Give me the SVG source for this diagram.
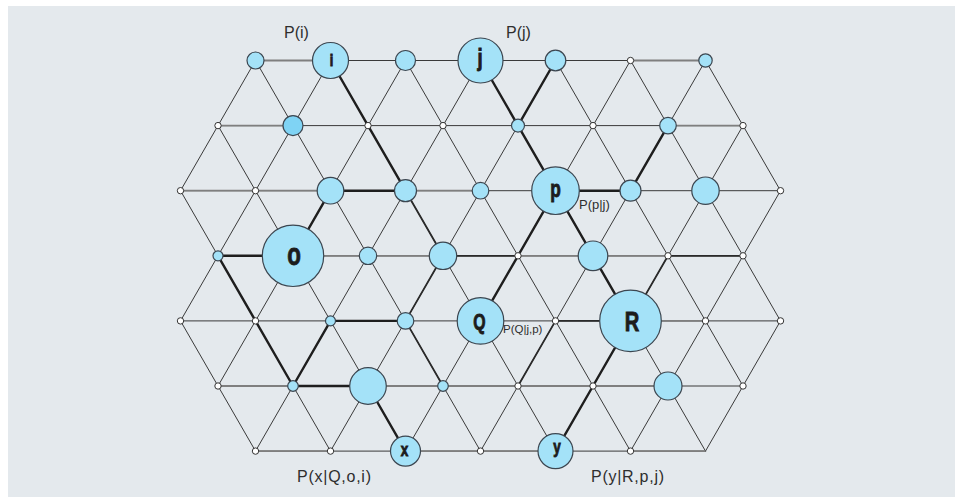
<svg xmlns="http://www.w3.org/2000/svg" width="962" height="497" viewBox="0 0 962 497">
<style>
.bg{fill:#e4e9ed}
.ln{stroke:#3a3a3a;stroke-width:1;fill:none;stroke-linecap:round}
.gr{stroke:#7f7f7f;stroke-width:1.8;fill:none}
.tk{stroke:#1e1e1e;stroke-width:2.4;fill:none;stroke-linecap:round}
.md{stroke:#2a2a2a;stroke-width:1.8;fill:none;stroke-linecap:round}
.b{fill:#a4e2f8;stroke:#3c4650;stroke-width:1.2}
.b2{fill:#7fd3f4;stroke:#3c4650;stroke-width:1.2}
.w{fill:#ffffff;stroke:#333;stroke-width:1}
.nl{font-family:"Liberation Sans",Arial,sans-serif;font-weight:bold;fill:#1c1c1c;stroke:#1c1c1c;stroke-width:0.9;text-anchor:middle}
.lb{font-family:"Liberation Sans",Arial,sans-serif;fill:#2e2e2e}
</style>
<rect width="962" height="497" fill="#ffffff"/>
<rect class="bg" x="8" y="6" width="947" height="491"/>
<g id="connectors">
<g class="ln">
<line x1="255.5" y1="60.5" x2="705.5" y2="60.5"/>
<line x1="218" y1="125.6" x2="743" y2="125.6"/>
<line x1="180.5" y1="190.7" x2="780.5" y2="190.7"/>
<line x1="218" y1="255.8" x2="743" y2="255.8"/>
<line x1="180.5" y1="320.9" x2="780.5" y2="320.9"/>
<line x1="218" y1="386" x2="743" y2="386"/>
<line x1="255.5" y1="451.1" x2="705.5" y2="451.1"/>
<line x1="180.5" y1="320.9" x2="255.5" y2="451.1"/>
<line x1="180.5" y1="190.7" x2="330.5" y2="451.1"/>
<line x1="218" y1="125.6" x2="405.5" y2="451.1"/>
<line x1="255.5" y1="60.5" x2="480.5" y2="451.1"/>
<line x1="330.5" y1="60.5" x2="555.5" y2="451.1"/>
<line x1="405.5" y1="60.5" x2="630.5" y2="451.1"/>
<line x1="480.5" y1="60.5" x2="705.5" y2="451.1"/>
<line x1="555.5" y1="60.5" x2="743" y2="386"/>
<line x1="630.5" y1="60.5" x2="780.5" y2="320.9"/>
<line x1="705.5" y1="60.5" x2="780.5" y2="190.7"/>
<line x1="255.5" y1="60.5" x2="180.5" y2="190.7"/>
<line x1="330.5" y1="60.5" x2="180.5" y2="320.9"/>
<line x1="405.5" y1="60.5" x2="218" y2="386"/>
<line x1="480.5" y1="60.5" x2="255.5" y2="451.1"/>
<line x1="555.5" y1="60.5" x2="330.5" y2="451.1"/>
<line x1="630.5" y1="60.5" x2="405.5" y2="451.1"/>
<line x1="705.5" y1="60.5" x2="480.5" y2="451.1"/>
<line x1="743" y1="125.6" x2="555.5" y2="451.1"/>
<line x1="780.5" y1="190.7" x2="630.5" y2="451.1"/>
<line x1="780.5" y1="320.9" x2="705.5" y2="451.1"/>
</g>
<g class="gr">
<line x1="255.5" y1="60.5" x2="330.5" y2="60.5"/>
<line x1="630.5" y1="60.5" x2="705.5" y2="60.5"/>
<line x1="218" y1="125.6" x2="293" y2="125.6"/>
<line x1="668" y1="125.6" x2="743" y2="125.6"/>
<line x1="180.5" y1="190.7" x2="330.5" y2="190.7"/>
<line x1="405.5" y1="190.7" x2="480.5" y2="190.7"/>
<line x1="293" y1="255.8" x2="443" y2="255.8"/>
<line x1="518" y1="255.8" x2="668" y2="255.8"/>
<line x1="630.5" y1="320.9" x2="705.5" y2="320.9"/>
<line x1="218" y1="386" x2="293" y2="386"/>
<line x1="368" y1="386" x2="668" y2="386"/>
<line x1="255.5" y1="451.1" x2="330.5" y2="451.1"/>
<line x1="405.5" y1="451.1" x2="555.5" y2="451.1"/>
<line x1="630.5" y1="451.1" x2="705.5" y2="451.1"/>
</g>
<g class="tk">
<line x1="330.5" y1="60.5" x2="368" y2="125.6"/>
<line x1="368" y1="125.6" x2="405.5" y2="190.7"/>
<line x1="330.5" y1="190.7" x2="405.5" y2="190.7"/>
<line x1="330.5" y1="190.7" x2="293" y2="255.8"/>
<line x1="293" y1="255.8" x2="218" y2="255.8"/>
<line x1="218" y1="255.8" x2="255.5" y2="320.9"/>
<line x1="255.5" y1="320.9" x2="293" y2="386"/>
<line x1="330.5" y1="320.9" x2="293" y2="386"/>
<line x1="293" y1="386" x2="368" y2="386"/>
<line x1="368" y1="386" x2="405.5" y2="451.1"/>
<line x1="330.5" y1="320.9" x2="405.5" y2="320.9"/>
<line x1="480.5" y1="60.5" x2="518" y2="125.6"/>
<line x1="555.5" y1="60.5" x2="518" y2="125.6"/>
<line x1="518" y1="125.6" x2="555.5" y2="190.7"/>
<line x1="555.5" y1="190.7" x2="518" y2="255.8"/>
<line x1="518" y1="255.8" x2="480.5" y2="320.9"/>
<line x1="555.5" y1="190.7" x2="630.5" y2="190.7"/>
<line x1="555.5" y1="190.7" x2="593" y2="255.8"/>
<line x1="593" y1="255.8" x2="630.5" y2="320.9"/>
<line x1="630.5" y1="190.7" x2="668" y2="125.6"/>
<line x1="630.5" y1="320.9" x2="593" y2="386"/>
<line x1="593" y1="386" x2="555.5" y2="451.1"/>
</g>
<g class="md">
<line x1="405.5" y1="190.7" x2="443" y2="255.8"/>
<line x1="443" y1="255.8" x2="405.5" y2="320.9"/>
<line x1="405.5" y1="320.9" x2="443" y2="386"/>
<line x1="443" y1="255.8" x2="518" y2="255.8"/>
<line x1="668" y1="255.8" x2="630.5" y2="320.9"/>
<line x1="555.5" y1="320.9" x2="630.5" y2="320.9"/>
<line x1="555.5" y1="320.9" x2="518" y2="386"/>
<line x1="668" y1="255.8" x2="743" y2="255.8"/>
</g>
</g>
<g id="nodes">
<g id="r0">
<circle class="b" cx="255.5" cy="60.5" r="8.5"/>
<g id="node-i"><circle class="b" cx="330.5" cy="60.5" r="18"/><text class="nl" font-size="17" transform="translate(331.5,65.5) scale(0.75,1)">i</text></g>
<circle class="b" cx="405.5" cy="60.5" r="10"/>
<g id="node-j"><circle class="b" cx="480.5" cy="60.5" r="22.5"/><text class="nl" font-size="23" transform="translate(480,65.5) scale(0.8,1)">j</text></g>
<circle class="b" cx="555.5" cy="60.5" r="10.3"/>
<circle class="w" cx="630.5" cy="60.5" r="3.2"/>
<circle class="b" cx="705.5" cy="60.5" r="6.7"/>
</g>
<g id="r1">
<circle class="w" cx="218" cy="125.6" r="3.2"/>
<circle class="b2" cx="293" cy="125.6" r="10"/>
<circle class="w" cx="368" cy="125.6" r="3.2"/>
<circle class="w" cx="443" cy="125.6" r="3.2"/>
<circle class="b" cx="518" cy="125.6" r="6.5"/>
<circle class="w" cx="593" cy="125.6" r="3.2"/>
<circle class="b" cx="668" cy="125.6" r="8.3"/>
<circle class="w" cx="743" cy="125.6" r="3.2"/>
</g>
<g id="r2">
<circle class="w" cx="180.5" cy="190.7" r="3.2"/>
<circle class="w" cx="255.5" cy="190.7" r="3.2"/>
<circle class="b" cx="330.5" cy="190.7" r="13.3"/>
<circle class="b" cx="405.5" cy="190.7" r="11"/>
<circle class="b" cx="480.5" cy="190.7" r="8.3"/>
<g id="node-p"><circle class="b" cx="555.5" cy="190.7" r="23.8"/><text class="nl" font-size="24" transform="translate(555.5,196.5) scale(0.72,1)">p</text></g>
<circle class="b" cx="630.5" cy="190.7" r="10.5"/>
<circle class="b" cx="705.5" cy="190.7" r="13.7"/>
<circle class="w" cx="780.5" cy="190.7" r="3.2"/>
</g>
<g id="r3">
<circle class="b" cx="218" cy="255.8" r="5"/>
<g id="node-o"><circle class="b" cx="293" cy="255.8" r="30.7"/><text class="nl" font-size="32" transform="translate(294,265) scale(0.7,1)">o</text></g>
<circle class="b" cx="368" cy="255.8" r="8.7"/>
<circle class="b" cx="443" cy="255.8" r="13.7"/>
<circle class="w" cx="518" cy="255.8" r="3.2"/>
<circle class="b" cx="593" cy="255.8" r="14.8"/>
<circle class="w" cx="668" cy="255.8" r="3.2"/>
<circle class="w" cx="743" cy="255.8" r="3.2"/>
</g>
<g id="r4">
<circle class="w" cx="180.5" cy="320.9" r="3.2"/>
<circle class="w" cx="255.5" cy="320.9" r="3.2"/>
<circle class="b" cx="330.5" cy="320.9" r="5"/>
<circle class="b" cx="405.5" cy="320.9" r="8.3"/>
<g id="node-Q"><circle class="b" cx="480.5" cy="320.9" r="23.3"/><text class="nl" font-size="22" transform="translate(479.5,328.5) scale(0.72,1)">Q</text></g>
<circle class="w" cx="555.5" cy="320.9" r="3.2"/>
<g id="node-R"><circle class="b" cx="630.5" cy="320.9" r="30.8"/><text class="nl" font-size="28" transform="translate(632,331) scale(0.72,1)">R</text></g>
<circle class="w" cx="705.5" cy="320.9" r="3.2"/>
<circle class="w" cx="780.5" cy="320.9" r="3.2"/>
</g>
<g id="r5">
<circle class="w" cx="218" cy="386" r="3.2"/>
<circle class="b" cx="293" cy="386" r="5.3"/>
<circle class="b" cx="368" cy="386" r="18.3"/>
<circle class="b" cx="443" cy="386" r="5.3"/>
<circle class="w" cx="518" cy="386" r="3.2"/>
<circle class="w" cx="593" cy="386" r="3.2"/>
<circle class="b" cx="668" cy="386" r="14"/>
<circle class="w" cx="743" cy="386" r="3.2"/>
</g>
<g id="r6">
<circle class="w" cx="255.5" cy="451.1" r="3.2"/>
<circle class="w" cx="330.5" cy="451.1" r="3.2"/>
<g id="node-x"><circle class="b" cx="405.5" cy="451.1" r="15"/><text class="nl" font-size="18" transform="translate(404.5,455.5) scale(0.75,1)">x</text></g>
<circle class="w" cx="480.5" cy="451.1" r="3.2"/>
<g id="node-y"><circle class="b" cx="555.5" cy="451.1" r="17.5"/><text class="nl" font-size="18" transform="translate(557,453) scale(0.75,1)">y</text></g>
<circle class="w" cx="630.5" cy="451.1" r="3.2"/>
</g>
</g>
<g id="labels">
<text class="lb" x="284" y="38" font-size="16">P(i)</text>
<text class="lb" x="506" y="38" font-size="16">P(j)</text>
<text class="lb" x="579" y="209" font-size="13">P(p|j)</text>
<text class="lb" x="503" y="333" font-size="11.5">P(Q|j,p)</text>
<text class="lb" x="297" y="482" font-size="16" textLength="74">P(x|Q,o,i)</text>
<text class="lb" x="591" y="482" font-size="16" textLength="73">P(y|R,p,j)</text>
</g>
</svg>
